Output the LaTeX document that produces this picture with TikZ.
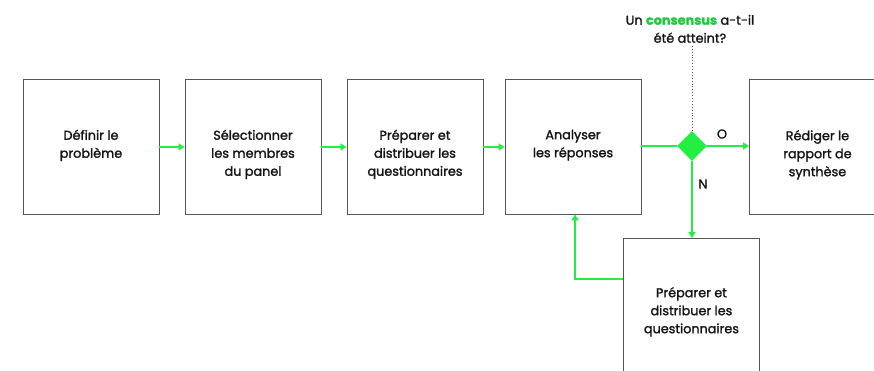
\documentclass[tikz,border=0pt]{standalone}
\usepackage{fontspec}
\setmainfont{Poppins}[FakeBold=1.6]
\usetikzlibrary{arrows.meta,shapes.geometric}
\definecolor{grn}{RGB}{34,238,68}
\definecolor{edge}{RGB}{85,85,85}
\definecolor{txt}{RGB}{20,20,20}
\tikzset{
  box/.style={draw=edge,line width=0.9pt,minimum width=136pt,minimum height=135pt,inner sep=0pt},
  lbl/.style={align=center,font=\fontsize{12.8}{18}\selectfont,text=txt,inner sep=0pt,anchor=north},
  flow/.style={draw=grn,line width=2.6pt,-{Triangle[length=6pt,width=7pt]}},
  flowline/.style={draw=grn,line width=2.6pt},
}
\begin{document}
\begin{tikzpicture}[x=1pt,y=-1pt]
\useasboundingbox (0,0) rectangle (874,370);
\clip (0,0) rectangle (874,370);
\node[box] (b1) at (91,146.5) {};
\node[box] (b2) at (253,146.5) {};
\node[box] (b3) at (415,146.5) {};
\node[box] (b4) at (573,146.5) {};
\node[box,anchor=north west] (b5) at (749,79) {};
\node[box,anchor=north west,minimum height=150pt] (b6) at (623,238) {};
\node[lbl] (t1) at ([yshift=-51pt]b1.north) {Définir le\\problème};
\node[lbl] (t2) at ([yshift=-51pt]b2.north) {Sélectionner\\les membres\\du panel};
\node[lbl] (t3) at ([yshift=-51pt]b3.north) {Préparer et\\distribuer les\\questionnaires};
\node[lbl] (t4) at ([yshift=-51pt]b4.north) {Analyser\\les réponses};
\node[lbl] (t5) at ([yshift=-51pt]b5.north) {Rédiger le\\rapport de\\synthèse};
\node[lbl] (t6) at ([yshift=-49pt]b6.north) {Préparer et\\distribuer les\\questionnaires};
\node[diamond,fill=grn,minimum width=30pt,minimum height=30pt,inner sep=0pt] (d) at (692,146) {};
\node[lbl,anchor=south] (q) at (690,43) {Un \textcolor{grn!85!black}{\bfseries consensus} a-t-il\\été atteint?};
\node[font=\fontsize{12.8}{14}\selectfont,text=txt,inner sep=0pt] (o) at (722,134) {O};
\node[font=\fontsize{12.8}{14}\selectfont,text=txt,inner sep=0pt] (n) at (703,184) {N};
\draw[flow] (b1.east |- 0,147) -- (b2.west |- 0,147);
\draw[flow] (b2.east |- 0,147) -- (b3.west |- 0,147);
\draw[flow] (b3.east |- 0,147) -- (b4.west |- 0,147);
\draw[flowline] (b4.east |- d) -- (d.west);
\draw[flow] (d.east) -- (b5.west |- d);
\draw[flow] (d.south) -- (b6.north -| d);
\coordinate (k) at (575,279);
\draw[flow] (b6.west |- k) -- (k) -- (b4.south -| k);
\draw[edge,line width=0.9pt,dotted] (d.north) -- (692,46);
\end{tikzpicture}
\end{document}
